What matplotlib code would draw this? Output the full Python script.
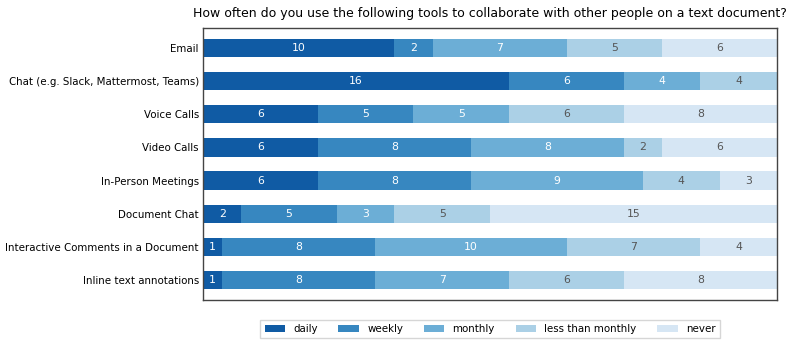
import numpy as np
import matplotlib
matplotlib.use("Agg")
import matplotlib.pyplot as plt
import seaborn as sns

categories = ["Email", "Chat (e.g. Slack, Mattermost, Teams)", "Voice Calls", "Video Calls",
              "In-Person Meetings", "Document Chat", "Interactive Comments in a Document",
              "Inline text annotations"]
series = ["daily", "weekly", "monthly", "less than monthly", "never"]
daily = [10, 16, 6, 6, 6, 2, 1, 1]
weekly = [2, 6, 5, 8, 8, 5, 8, 8]
monthly = [7, 4, 5, 8, 9, 3, 10, 7]
less_monthly = [5, 4, 6, 2, 4, 5, 7, 6]
never = [6, 0, 8, 6, 3, 15, 4, 8]

values = [daily, weekly, monthly, less_monthly, never]
colors = sns.color_palette("Blues_r", 5)
text_colors = ["white", "white", "white", "#555555", "#555555"]

fig = plt.figure(figsize=(7.92, 3.45), dpi=100)
ax = fig.add_axes([203 / 792, 45 / 345, 574 / 792, 272 / 345])

y = np.arange(len(categories))
left = np.zeros(len(categories))
for i, name in enumerate(series):
    vals = np.array(values[i], dtype=float)
    ax.barh(y, vals, left=left, height=0.55, color=colors[i], label=name)
    for j, v in enumerate(vals):
        if v > 0:
            ax.text(left[j] + v / 2, y[j], str(int(v)), ha="center", va="center",
                    color=text_colors[i], fontsize=7.8)
    left += vals

ax.set_xlim(0, 30)
ax.set_ylim(len(categories) - 1 + 0.6, -0.6)
ax.set_yticks(y)
ax.set_yticklabels(categories, fontsize=7.4)
ax.set_xticks([])
ax.tick_params(axis="y", length=0, pad=3)
for s in ax.spines.values():
    s.set_color("#444444")
    s.set_linewidth(1.0)
ax.set_title("How often do you use the following tools to collaborate with other people on a text document?",
             fontsize=9, pad=8)
ax.legend(loc="upper center", bbox_to_anchor=(0.5, -0.055), ncol=5, fontsize=7.4,
          frameon=True, fancybox=False, edgecolor="#cccccc", handlelength=2.0,
          columnspacing=2.0)

fig.savefig("out.png", dpi=100)
